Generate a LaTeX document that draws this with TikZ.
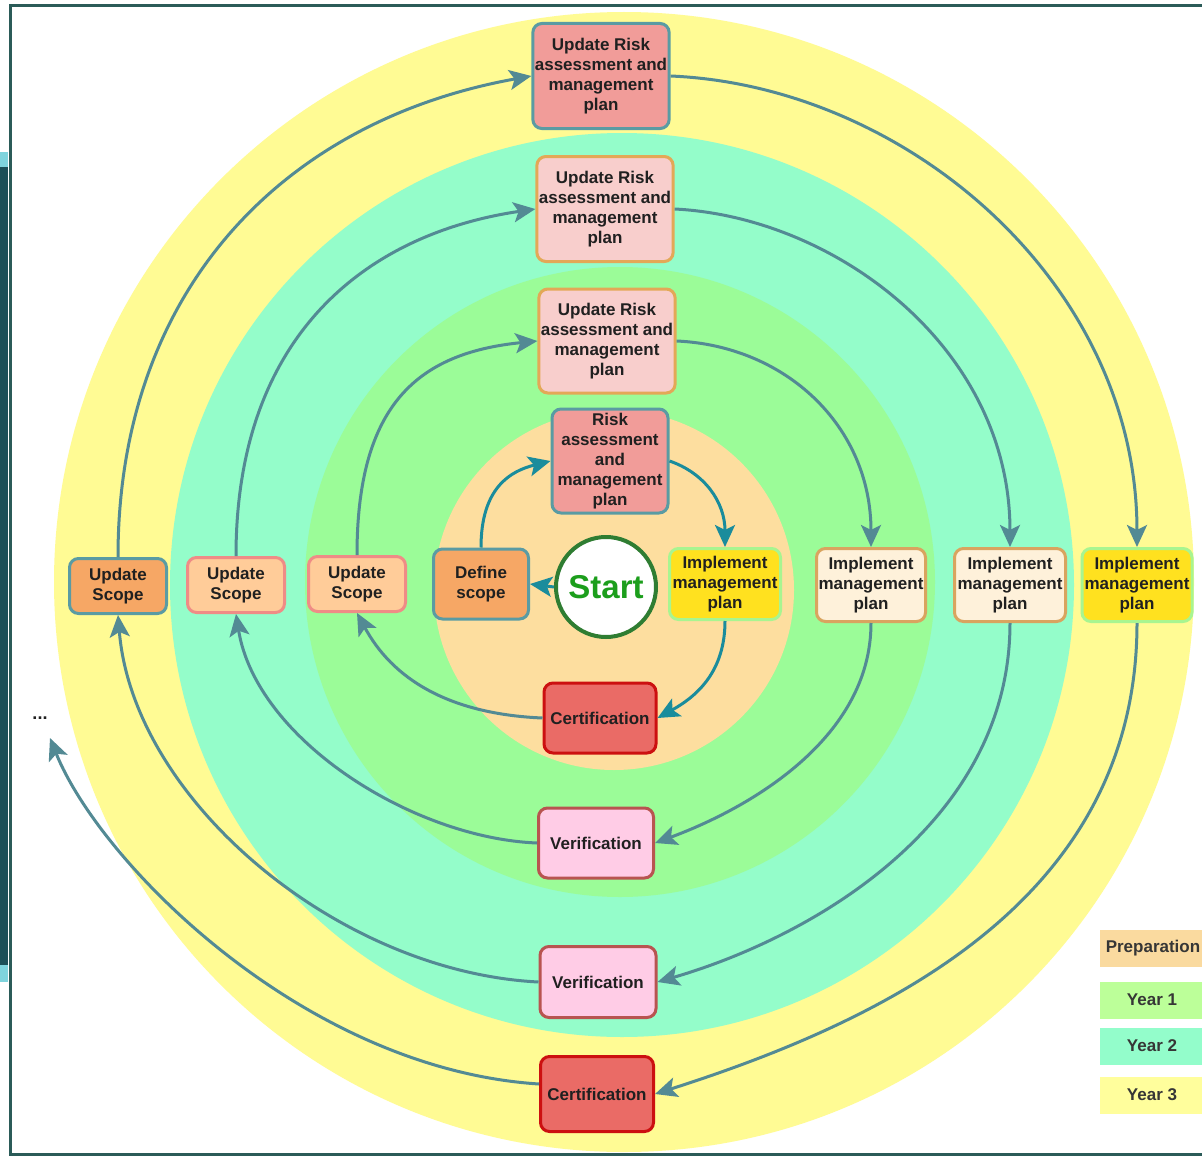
\documentclass[tikz,border=0pt]{standalone}
\usepackage{fontspec}
\setmainfont{Liberation Sans}
\usetikzlibrary{arrows.meta,calc}
\definecolor{cyY3}{HTML}{FFFB94}
\definecolor{cyY2}{HTML}{94FDCA}
\definecolor{cyY1}{HTML}{9BFC98}
\definecolor{cyPr}{HTML}{FDDE9F}
\definecolor{lgPr}{HTML}{FADA9F}
\definecolor{lgY1}{HTML}{BCFF99}
\definecolor{lgY2}{HTML}{93FDCB}
\definecolor{lgY3}{HTML}{FFFE9C}
\definecolor{frameC}{HTML}{2B5B58}
\definecolor{stripD}{HTML}{1C4F57}
\definecolor{stripL}{HTML}{7FD4DD}
\definecolor{tealB}{HTML}{5A9BA3}
\definecolor{arrC}{HTML}{538A94}
\definecolor{arrP}{HTML}{1A8C9C}
\definecolor{salmonF}{HTML}{F19C99}
\definecolor{pinkF}{HTML}{F8CECC}
\definecolor{orangeB}{HTML}{E3A857}
\definecolor{sandF}{HTML}{F6A765}
\definecolor{peachF}{HTML}{FFCC99}
\definecolor{peachB}{HTML}{EF8C86}
\definecolor{yellowF}{HTML}{FFE11F}
\definecolor{lgreenB}{HTML}{A8F590}
\definecolor{creamF}{HTML}{FEF1DA}
\definecolor{tanB}{HTML}{D9A45F}
\definecolor{certF}{HTML}{EA6B66}
\definecolor{certB}{HTML}{CC1010}
\definecolor{verF}{HTML}{FFCCE6}
\definecolor{verB}{HTML}{B85450}
\definecolor{startB}{HTML}{2F7D32}
\definecolor{startT}{HTML}{1C9E1C}
\definecolor{txtC}{HTML}{202020}
\begin{document}
\begin{tikzpicture}[x=1pt,y=-1pt,
  box/.style={rounded corners=9pt, line width=3pt, align=center, inner sep=2pt,
    font=\bfseries\fontsize{17}{20}\selectfont, text=txtC},
  boxST/.style={box, fill=salmonF, draw=tealB},
  boxPO/.style={box, fill=pinkF, draw=orangeB},
  boxSand/.style={box, fill=sandF, draw=tealB},
  boxPeach/.style={box, fill=peachF, draw=peachB},
  boxYel/.style={box, fill=yellowF, draw=lgreenB},
  boxCream/.style={box, fill=creamF, draw=tanB},
  boxCert/.style={box, fill=certF, draw=certB},
  boxVer/.style={box, fill=verF, draw=verB},
  legendbox/.style={inner sep=0pt, minimum width=104pt, minimum height=37pt,
    font=\bfseries\fontsize{17}{20}\selectfont, text=txtC!90!white},
  tipstyle/.style={-{Stealth[length=22pt,width=20pt,inset=5pt]}},
  arr/.style={draw=arrC, line width=3pt, tipstyle},
  arrp/.style={draw=arrP, line width=3pt, tipstyle}
]
\useasboundingbox (0,0) rectangle (1202,1156);
\fill[white] (0,0) rectangle (1202,1156);
% left strip
\fill[stripL] (0,152) rectangle (8,167);
\fill[stripD] (0,167) rectangle (8,965);
\fill[stripL] (0,965) rectangle (8,982);
% rings
\fill[cyY3] (624,582) circle[radius=570pt];
\fill[cyY2] (622,585) circle[radius=452pt];
\fill[cyY1] (620,582) circle[radius=315pt];
\fill[cyPr] (614,590) circle[radius=180pt];
% frame
\draw[frameC, line width=3pt] (1202,6) -- (10,6) -- (10,1154) -- (1202,1154);

% nodes
\node[boxST, minimum width=133pt, minimum height=105pt] (ur3) at (601,76) {Update Risk\\assessment and\\management\\plan};
\node[boxPO, minimum width=133pt, minimum height=105pt] (ur2) at (605,209) {Update Risk\\assessment and\\management\\plan};
\node[boxPO, minimum width=133pt, minimum height=104pt] (ur1) at (607,341) {Update Risk\\assessment and\\management\\plan};
\node[boxST, minimum width=116pt, minimum height=104pt] (risk) at (610,461) {Risk\\assessment\\and\\management\\plan};
\node[circle, draw=startB, line width=4pt, fill=white, minimum size=100pt, inner sep=0pt,
  font=\bfseries\fontsize{33}{36}\selectfont, text=startT] (start) at (606,587) {Start};
\node[boxSand, minimum width=95pt, minimum height=70pt] (def) at (481,584) {Define\\scope};
\node[boxYel, minimum width=111pt, minimum height=71pt] (im0) at (725,584) {Implement\\management\\plan};
\node[boxCert, minimum width=112pt, minimum height=70pt] (c0) at (600,718) {Certification};
\node[boxPeach, minimum width=97pt, minimum height=55pt] (us1) at (357,584) {Update\\Scope};
\node[boxPeach, minimum width=97pt, minimum height=55pt] (us2) at (236,585) {Update\\Scope};
\node[boxSand, minimum width=97pt, minimum height=55pt] (us3) at (118,586) {Update\\Scope};
\node[boxCream, minimum width=109pt, minimum height=73pt] (im1) at (871,585) {Implement\\management\\plan};
\node[boxCream, minimum width=111pt, minimum height=73pt] (im2) at (1010,585) {Implement\\management\\plan};
\node[boxYel, minimum width=110pt, minimum height=73pt] (im3) at (1137,585) {Implement\\management\\plan};
\node[boxVer, minimum width=115pt, minimum height=70pt] (v1) at (596,843) {Verification};
\node[boxVer, minimum width=116pt, minimum height=71pt] (v2) at (598,982) {Verification};
\node[boxCert, minimum width=113pt, minimum height=75pt] (c3) at (597,1094) {Certification};
\node[inner sep=1pt, font=\bfseries\fontsize{18}{18}\selectfont, text=txtC] (dots) at (40,718) {...};
% legend
\node[legendbox, fill=lgPr, minimum width=106pt] (lgp) at (1153,948) {Preparation};
\node[legendbox, fill=lgY1] (lg1) at (1152,1000) {Year 1};
\node[legendbox, fill=lgY2] (lg2) at (1152,1046) {Year 2};
\node[legendbox, fill=lgY3] (lg3) at (1152,1095) {Year 3};
\coordinate (dotsend) at (50,738);

% preparation cycle
\draw[arrp] (start.west) -- (def.east);
\draw[arrp] (def.north) .. controls ($(def.north)+(0,-60)$) and ($(risk.west)+(-40,10)$) .. (risk.west);
\draw[arrp] (risk.east) .. controls ($(risk.east)+(35,12)$) and ($(im0.north)+(0,-45)$) .. (im0.north);
\draw[arrp] (im0.south) .. controls ($(im0.south)+(0,50)$) and ($(c0.east)+(40,-22)$) .. (c0.east);
\draw[arr] (c0.west) .. controls ($(c0.west)+(-95,-4)$) and ($(us1.south)+(35,65)$) .. (us1.south);
% year 1
\draw[arr] (us1.north) .. controls ($(us1.north)+(0,-150)$) and ($(ur1.west)+(-120,12)$) .. (ur1.west);
\draw[arr] (ur1.east) .. controls ($(ur1.east)+(110,5)$) and ($(im1.north)+(0,-120)$) .. (im1.north);
\draw[arr] (im1.south) .. controls ($(im1.south)+(0,115)$) and ($(v1.east)+(95,-35)$) .. (v1.east);
\draw[arr] (v1.west) .. controls ($(v1.west)+(-125,-5)$) and ($(us2.south)+(20,125)$) .. (us2.south);
% year 2
\draw[arr] (us2.north) .. controls ($(us2.north)+(0,-220)$) and ($(ur2.west)+(-170,25)$) .. (ur2.west);
\draw[arr] (ur2.east) .. controls ($(ur2.east)+(160,8)$) and ($(im2.north)+(0,-200)$) .. (im2.north);
\draw[arr] (im2.south) .. controls ($(im2.south)+(0,200)$) and ($(v2.east)+(155,-45)$) .. (v2.east);
\draw[arr] (v2.west) .. controls ($(v2.west)+(-200,-10)$) and ($(us3.south)+(15,185)$) .. (us3.south);
% year 3
\draw[arr] (us3.north) .. controls ($(us3.north)+(0,-265)$) and ($(ur3.west)+(-250,45)$) .. (ur3.west);
\draw[arr] (ur3.east) .. controls ($(ur3.east)+(235,10)$) and ($(im3.north)+(0,-265)$) .. (im3.north);
\draw[arr] (im3.south) .. controls ($(im3.south)+(0,275)$) and ($(c3.east)+(235,-75)$) .. (c3.east);
\draw[arr] ($(c3.west)+(0,-10)$) .. controls ($(c3.west)+(-235,-25)$) and ($(dotsend)+(50,125)$) .. (dotsend);
\end{tikzpicture}
\end{document}
